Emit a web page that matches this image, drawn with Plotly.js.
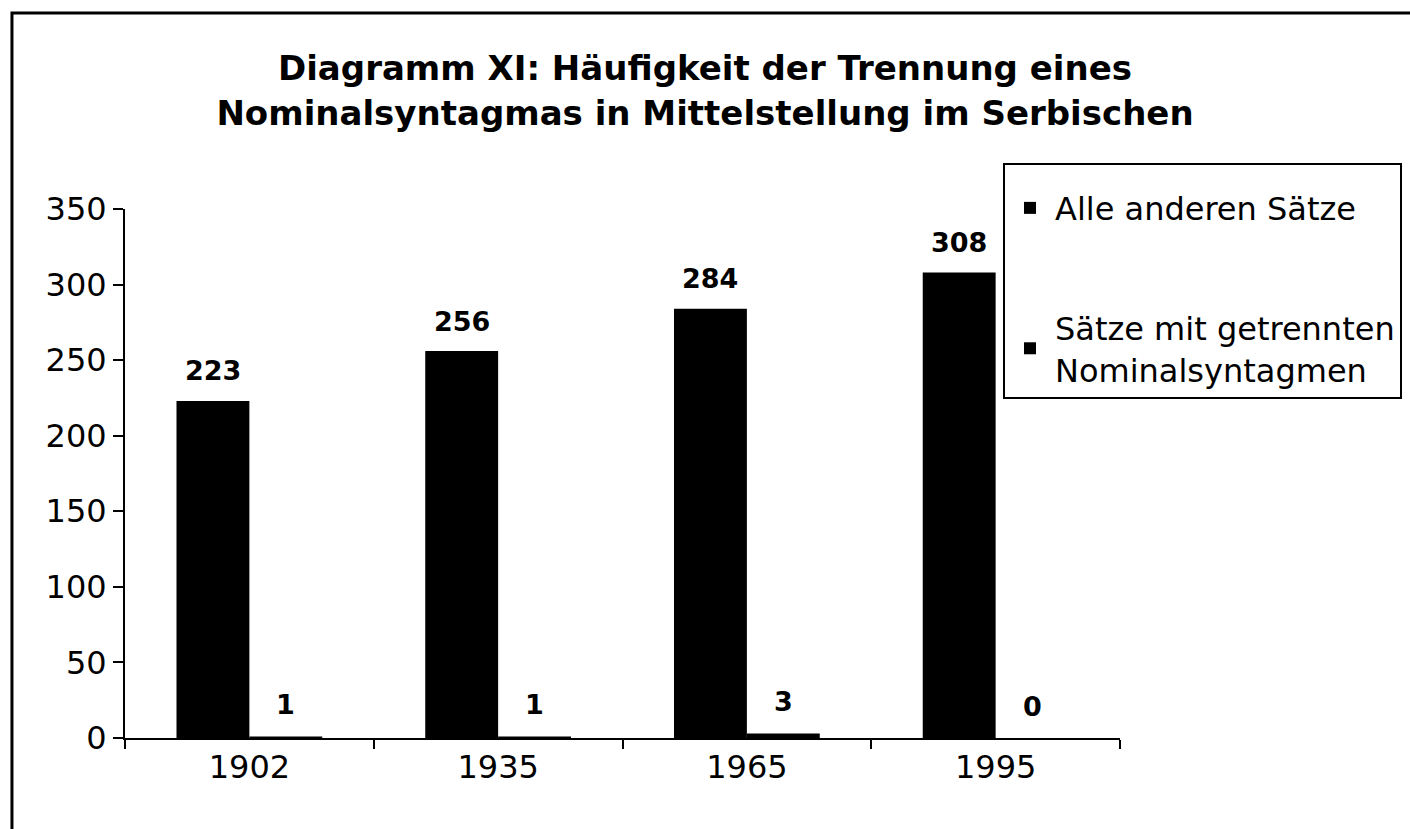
<!DOCTYPE html>
<html>
<head>
<meta charset="utf-8">
<script src="https://cdn.plot.ly/plotly-3.0.1.min.js"></script>
<style>
  html, body { margin: 0; padding: 0; background: #fff; }
  #chart { width: 1410px; height: 829px; }
</style>
</head>
<body>
<div id="chart"></div>
<script>
const years = ["1902", "1935", "1965", "1995"];
const alleAnderen = [223, 256, 284, 308];
const getrennt = [1, 1, 3, 0];
const seriesNames = ["Alle anderen Sätze", "Sätze mit getrennten<br>Nominalsyntagmen"];
const yTicks = [0, 50, 100, 150, 200, 250, 300, 350];

const FONT = "DejaVu Sans, Liberation Sans, Arial, sans-serif";
const HALF_BAR_PX = 36.5;

const traces = [
  {
    type: "bar", x: years, y: alleAnderen, name: seriesNames[0],
    legendgroup: "a",
    marker: { color: "#000000", line: { width: 0 } }
  },
  {
    type: "bar", x: years, y: getrennt, name: seriesNames[1],
    legendgroup: "b",
    marker: { color: "#000000", line: { width: 0 } }
  }
];

const labelFont = { family: FONT, size: 27, color: "#000" };
const annotations = [];
years.forEach((yr, i) => {
  annotations.push({
    x: i, y: alleAnderen[i], xref: "x", yref: "y",
    text: "<b>" + alleAnderen[i] + "</b>", showarrow: false,
    xshift: -HALF_BAR_PX, yshift: 30, yanchor: "middle", font: labelFont
  });
  annotations.push({
    x: i, y: getrennt[i], xref: "x", yref: "y",
    text: "<b>" + getrennt[i] + "</b>", showarrow: false,
    xshift: HALF_BAR_PX, yshift: 32, yanchor: "middle", font: labelFont
  });
});

const layout = {
  width: 1410, height: 829,
  paper_bgcolor: "#ffffff", plot_bgcolor: "#ffffff",
  margin: { l: 125, r: 290, t: 209, b: 91, autoexpand: false },
  font: { family: FONT, color: "#000" },
  title: {
    text: "<b>Diagramm XI: Häufigkeit der Trennung eines<br>Nominalsyntagmas in Mittelstellung im Serbischen</b>",
    font: { family: FONT, size: 34, color: "#000" },
    x: 0.5, xref: "container", xanchor: "center",
    y: 0.903, yref: "container", yanchor: "middle"
  },
  barmode: "group",
  bargap: 0.414,
  bargroupgap: 0,
  showlegend: true,
  legend: {
    x: 0.8824, y: 1.087, xanchor: "left", yanchor: "top",
    xref: "paper", yref: "paper",
    bgcolor: "#ffffff", bordercolor: "#000", borderwidth: 2,
    font: { family: FONT, size: 32, color: "#000" },
    title: { text: " ", font: { family: FONT, size: 12 } },
    traceorder: "grouped", tracegroupgap: 75,
    itemwidth: 40
  },
  xaxis: {
    type: "category", categoryorder: "array", categoryarray: years,
    range: [-0.5, years.length - 0.5],
    showline: true, linecolor: "#000", linewidth: 2,
    ticks: "outside", tickson: "boundaries", ticklen: 9, tickwidth: 2, tickcolor: "#000",
    tickfont: { family: FONT, size: 32, color: "#000" },
    showgrid: false, zeroline: false
  },
  yaxis: {
    range: [0, 350], tickvals: yTicks, ticktext: yTicks.map(String),
    showline: true, linecolor: "#000", linewidth: 2,
    ticks: "outside", ticklen: 10, tickwidth: 2, tickcolor: "#000",
    tickfont: { family: FONT, size: 32, color: "#000" },
    showgrid: false, zeroline: false
  },
  annotations: annotations,
  shapes: [
    {
      type: "rect", xref: "paper", yref: "paper",
      x0: -0.1136, x1: 1.5, y0: -0.5, y1: 1.3705,
      line: { color: "#000", width: 3 }, fillcolor: "rgba(0,0,0,0)", layer: "below"
    }
  ]
};

Plotly.newPlot("chart", traces, layout, { displayModeBar: false, staticPlot: true });
</script>
</body>
</html>
